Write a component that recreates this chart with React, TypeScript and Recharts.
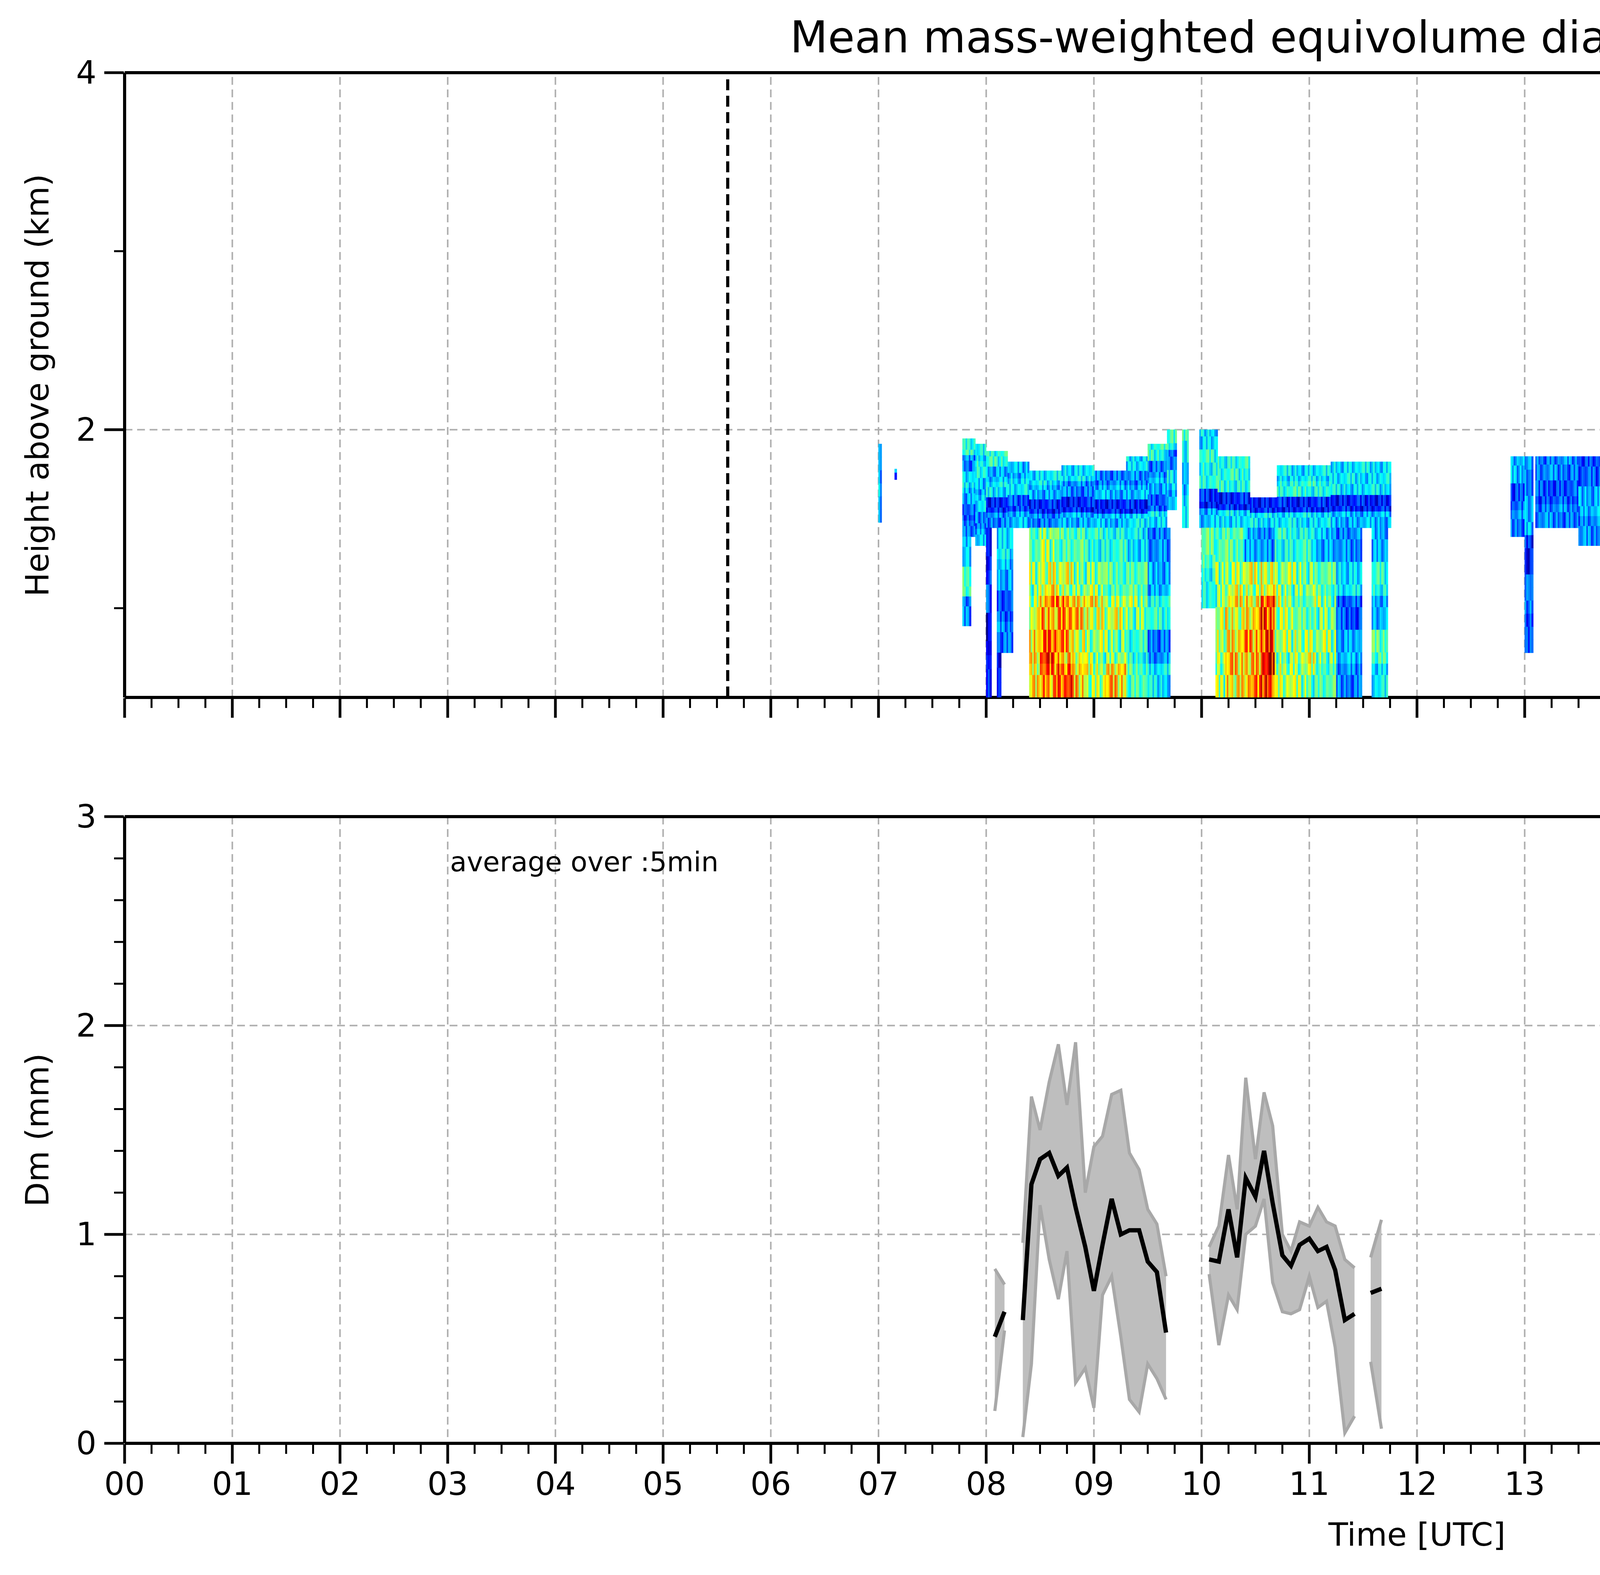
import React from 'react';
import { ComposedChart, Scatter, Line, Area, XAxis, YAxis, CartesianGrid, ReferenceLine } from 'recharts';

const HOUR_TICKS = [0,1,2,3,4,5,6,7,8,9,10,11,12,13,14,15,16,17,18,19,20,21,22,23];
const TOP_Y_TICKS = [1,2,3,4];
const TOP_Y_LABELS = [2,4];
const BOT_Y_TICKS = [0,0.2,0.4,0.6,0.8,1,1.2,1.4,1.6,1.8,2,2.2,2.4,2.6,2.8,3];
const BOT_Y_LABELS = [0,1,2,3];
const CBAR_TICKS = [0.0,0.4,0.8,1.2,1.6,2.0];
const DASH_LINES = [5.6,17.2];
// hand-listed column-to-column texture offsets (mm)
const TEXTURE = [0, 0.18, -0.12, 0.25, -0.3, 0.08, -0.2, 0.14, 0.3, -0.08, -0.25, 0.2, 0.05, -0.15, 0.22, -0.35, 0.1, -0.05, 0.28, -0.18, 0.12, -0.28, 0.02, 0.16];

// [t0, t1, h0, h1, values bottom->top]
const HEAT_SEGMENTS: number[][] = [
  [7.00,7.03,1.48,1.92,0.6,0.5],[7.15,7.17,1.72,1.78,0.5],
  [7.78,7.90,1.40,1.95,0.5,0.4,0.6,0.7,0.5,0.8],[7.90,8.00,1.35,1.92,0.6,0.5,0.7,0.6,0.8,0.7],
  [8.00,8.20,1.45,1.88,0.5,0.3,0.7,0.6,0.8],[8.20,8.40,1.45,1.82,0.6,0.4,0.7,0.6],
  [8.40,8.70,1.45,1.77,0.5,0.3,0.6,0.7],[8.70,9.00,1.45,1.80,0.6,0.3,0.5,0.7],
  [9.00,9.30,1.45,1.77,0.6,0.3,0.6,0.5],[9.30,9.50,1.45,1.85,0.7,0.3,0.6,0.5,0.7],
  [9.50,9.68,1.45,1.92,0.7,0.4,0.6,0.5,0.8],[9.68,9.77,1.55,2.00,0.6,0.7,0.5,0.8],
  [7.78,7.86,0.90,1.40,0.5,0.9,0.6],[8.00,8.05,0.50,1.45,0.3,0.2,0.4,0.3],
  [8.10,8.25,0.75,1.45,0.5,0.4,0.6,0.7],[8.10,8.14,0.50,0.75,0.3],
  [8.40,8.50,0.50,1.45,1.2,1.3,1.1,1.0,0.9],[8.50,8.65,0.50,1.45,1.5,1.6,1.4,1.2,1.0],
  [8.65,8.80,0.50,1.45,1.6,1.4,1.5,1.1,0.9],[8.80,8.92,0.50,1.45,1.3,1.2,1.3,1.0,0.9],
  [8.92,9.10,0.50,1.45,1.1,1.0,1.2,1.0,0.8],[9.10,9.30,0.50,1.45,1.3,1.0,1.1,0.9,0.8],
  [9.30,9.50,0.50,1.45,0.9,0.8,1.0,0.9,0.7],[9.50,9.71,0.50,1.45,0.7,0.5,0.8,0.6,0.5],
  [9.82,9.88,1.45,2.00,0.7,0.6,0.8],
  [9.98,10.15,1.45,2.00,0.6,0.3,0.8,0.8,0.7],[10.15,10.45,1.45,1.85,0.7,0.3,0.8,0.8],
  [10.45,10.70,1.45,1.62,0.7,0.3],[10.70,11.20,1.45,1.80,0.7,0.3,0.8,0.7],
  [11.20,11.76,1.45,1.82,0.6,0.3,0.7,0.7],
  [10.00,10.13,1.00,1.45,0.8,0.9],[10.13,10.22,0.50,1.45,1.0,1.1,1.0,1.0,0.9],
  [10.22,10.40,0.50,1.45,1.3,1.3,1.2,1.1,0.9],[10.40,10.55,0.50,1.45,1.4,1.4,1.3,1.1,0.6],
  [10.55,10.68,0.50,1.45,1.7,1.7,1.6,1.2,0.5],[10.68,10.85,0.50,1.45,1.1,1.0,1.1,1.0,0.8],
  [10.85,11.05,0.50,1.45,1.0,1.1,0.9,1.0,0.8],[11.05,11.25,0.50,1.45,0.9,1.0,1.0,0.9,0.6],
  [11.25,11.49,0.50,1.45,0.5,0.6,0.4,0.7,0.5],[11.58,11.73,0.50,1.45,0.7,0.9,0.6,0.8,0.6],
  [12.87,13.00,1.40,1.85,0.5,0.4,0.6],[13.00,13.08,0.75,1.85,0.4,0.5,0.3,0.6,0.5],
  [13.10,13.50,1.45,1.85,0.5,0.4,0.5],[13.50,13.75,1.35,1.85,0.5,0.6,0.4],
  [14.05,14.12,0.80,1.42,0.4,0.5,0.3],[15.69,15.77,0.85,1.71,0.4,0.5,0.6,0.5],
];

const TIME = [8.08,8.17,null,8.34,8.42,8.50,8.585,8.67,8.75,8.83,8.92,9.0,9.08,9.165,9.25,9.33,9.42,9.50,9.585,9.67,null,
  10.07,10.16,10.25,10.33,10.41,10.50,10.58,10.66,10.75,10.83,10.91,11.0,11.08,11.16,11.24,11.33,11.42,null,11.57,11.67];
const DM = [0.51,0.63,null,0.59,1.24,1.36,1.39,1.28,1.32,1.13,0.94,0.73,0.95,1.17,1.00,1.02,1.02,0.87,0.82,0.53,null,
  0.88,0.87,1.12,0.89,1.27,1.18,1.40,1.15,0.90,0.85,0.95,0.98,0.92,0.94,0.83,0.59,0.62,null,0.72,0.74];
const DM_HI = [0.835,0.76,null,0.96,1.66,1.50,1.73,1.91,1.62,1.92,1.20,1.42,1.47,1.67,1.69,1.39,1.31,1.12,1.05,0.80,null,
  0.94,1.04,1.38,1.12,1.75,1.36,1.68,1.52,1.00,0.92,1.06,1.04,1.13,1.06,1.04,0.88,0.84,null,0.89,1.07];
const DM_LO = [0.155,0.54,null,0.03,0.38,1.14,0.88,0.69,0.92,0.29,0.36,0.17,0.71,0.80,0.51,0.21,0.15,0.38,0.31,0.21,null,
  0.81,0.47,0.71,0.64,1.00,1.04,1.17,0.77,0.63,0.62,0.64,0.80,0.65,0.68,0.46,0.05,0.13,null,0.39,0.07];

const PLOT_L = 319, PLOT_R = 6936, PLOT_W = PLOT_R - PLOT_L;
const TOP_T = 186, TOP_B = 1785, BOT_T = 2090, BOT_B = 3694;
const PX_H = PLOT_W / 24, PX_KM = (TOP_B - TOP_T) / 3.5;
const FONT = 'DejaVu Sans';

function jet(v: number) {
  const f = Math.max(0, Math.min(1, v / 2));
  const c = (x: number) => Math.round(255 * Math.max(0, Math.min(1, 1.5 - Math.abs(x))));
  return `rgb(${c(4 * f - 3)},${c(4 * f - 2)},${c(4 * f - 1)})`;
}

const cells: any[] = [];
let col = 0;
HEAT_SEGMENTS.forEach((s) => {
  const [t0, t1, h0, h1, ...vals] = s;
  const n = Math.max(1, Math.round((t1 - t0) / 0.015));
  const sub = 3;
  const dt = (t1 - t0) / n, dh = (h1 - h0) / (vals.length * sub);
  for (let i = 0; i < n; i++) {
    col++;
    vals.forEach((v, j) => {
      for (let k = 0; k < sub; k++) {
        const r = j * sub + k;
        const off = TEXTURE[(col * 5 + Math.floor(r / 2) * 3) % TEXTURE.length] * (v > 0.9 ? 1 : 0.6);
        cells.push({ x: t0 + dt * (i + 0.5), y: h0 + dh * (r + 0.5), v: v + off, w: dt, h: dh });
      }
    });
  }
});

const lineData = TIME.map((t, i) => t === null ? { t: (TIME[i - 1] as number) + 0.04, dm: null, band: null } : { t, dm: DM[i], band: [DM_LO[i], DM_HI[i]] });

const MINOR_X: number[] = [];
for (let i = 0; i <= 96; i++) MINOR_X.push(i / 4);

const XTick = (labels: boolean) => (p: any) => {
  const v = p.payload.value;
  const major = Math.abs(v - Math.round(v)) < 1e-6;
  const len = major ? 50 : 25;
  return (
    <g>
      <line x1={p.x} x2={p.x} y1={p.y} y2={p.y + len} stroke="#000" strokeWidth={major ? 7 : 5} />
      {labels && major && v < 24 && <text x={p.x} y={p.y + 130} textAnchor="middle" fontSize={82} fontFamily={FONT}>{String(v).padStart(2, '0')}</text>}
    </g>
  );
};
const YTick = (labels: number[]) => (p: any) => {
  const v = p.payload.value;
  const major = labels.includes(v);
  const len = major ? 50 : 25;
  return (
    <g>
      <line x1={p.x} x2={p.x - len} y1={p.y} y2={p.y} stroke="#000" strokeWidth={major ? 7 : 5} />
      {major && <text x={p.x - 70} y={p.y + 28} textAnchor="end" fontSize={82} fontFamily={FONT}>{v}</text>}
    </g>
  );
};

const CellShape = (p: any) => {
  const w = p.payload.w * PX_H + 0.8, h = p.payload.h * PX_KM + 0.8;
  return <rect x={p.cx - w / 2} y={p.cy - h / 2} width={w} height={h} fill={jet(p.payload.v)} />;
};

export default function App() {
  const yW = 200;
  return (
    <div style={{ position: 'absolute', left: 0, top: 0, width: 7442, height: 4031, background: '#fff', fontFamily: FONT }}>
      <div style={{ position: 'absolute', left: PLOT_L, top: 30, width: PLOT_W, textAlign: 'center', fontSize: 112 }}>
        Mean mass-weighted equivolume diameter on 20250310
      </div>
      <div style={{ position: 'absolute', left: 0, top: 0 }}>
        <ComposedChart width={7442} height={1900} data={cells} margin={{ top: TOP_T, left: PLOT_L - yW, right: 7442 - PLOT_R, bottom: 55 }} style={{ overflow: 'visible' }}>
          <XAxis type="number" dataKey="x" domain={[0, 24]} ticks={MINOR_X} interval={0} tick={XTick(false)} tickLine={false} tickSize={0} height={60} axisLine={{ stroke: '#000', strokeWidth: 8 }} allowDataOverflow />
          <YAxis type="number" dataKey="y" domain={[0.5, 4]} ticks={TOP_Y_TICKS} interval={0} tick={YTick(TOP_Y_LABELS)} tickLine={false} tickSize={0} width={yW} axisLine={{ stroke: '#000', strokeWidth: 8 }} allowDataOverflow />
          <Scatter data={cells} shape={CellShape} isAnimationActive={false} />
          {HOUR_TICKS.slice(1).map((x) => <ReferenceLine key={'g' + x} x={x} stroke="#b0b0b0" strokeWidth={4} strokeDasharray="20 12" />)}
          <ReferenceLine y={2} stroke="#b0b0b0" strokeWidth={4} strokeDasharray="20 12" />
          {DASH_LINES.map((x) => <ReferenceLine key={x} x={x} stroke="#000" strokeWidth={8} strokeDasharray="28 14" />)}
          <ReferenceLine y={4} stroke="#000" strokeWidth={8} />
          <ReferenceLine x={24} stroke="#000" strokeWidth={8} />
        </ComposedChart>
      </div>
      <div style={{ position: 'absolute', left: 95, top: (TOP_T + TOP_B) / 2, width: 0, height: 0 }}>
        <div style={{ position: 'absolute', whiteSpace: 'nowrap', fontSize: 82, transform: 'translate(-50%,-50%) rotate(-90deg)' }}>Height above ground (km)</div>
      </div>
      <div style={{ position: 'absolute', left: 0, top: 1950 }}>
        <ComposedChart width={7442} height={2000} data={lineData} margin={{ top: BOT_T - 1950, left: PLOT_L - yW, right: 7442 - PLOT_R, bottom: 2000 - (BOT_B - 1950) - 200 }} style={{ overflow: 'visible' }}>
          <CartesianGrid stroke="#b0b0b0" strokeDasharray="20 12" strokeWidth={4} horizontalValues={[1, 2]} verticalValues={HOUR_TICKS.slice(1)} />
          <XAxis type="number" dataKey="t" domain={[0, 24]} ticks={MINOR_X} interval={0} tick={XTick(true)} tickLine={false} tickSize={0} height={200} axisLine={{ stroke: '#000', strokeWidth: 8 }} />
          <YAxis type="number" domain={[0, 3]} ticks={BOT_Y_TICKS} interval={0} tick={YTick(BOT_Y_LABELS)} tickLine={false} tickSize={0} width={yW} axisLine={{ stroke: '#000', strokeWidth: 8 }} />
          <Area dataKey="band" stroke="#a8a8a8" strokeWidth={8} fill="#bebebe" fillOpacity={1} isAnimationActive={false} connectNulls={false} dot={false} activeDot={false} />
          <Line dataKey="dm" stroke="#000" strokeWidth={11} dot={false} isAnimationActive={false} connectNulls={false} />
          <ReferenceLine y={3} stroke="#000" strokeWidth={8} />
          <ReferenceLine x={24} stroke="#000" strokeWidth={8} />
        </ComposedChart>
      </div>
      <div style={{ position: 'absolute', left: 1152, top: 2165, fontSize: 70 }}>average over :5min</div>
      <div style={{ position: 'absolute', left: 95, top: (BOT_T + BOT_B) / 2, width: 0, height: 0 }}>
        <div style={{ position: 'absolute', whiteSpace: 'nowrap', fontSize: 82, transform: 'translate(-50%,-50%) rotate(-90deg)' }}>Dm (mm)</div>
      </div>
      <div style={{ position: 'absolute', left: PLOT_L, top: 3880, width: PLOT_W, textAlign: 'center', fontSize: 82 }}>Time [UTC]</div>
      <svg style={{ position: 'absolute', left: 0, top: 0 }} width={7442} height={1900}>
        <defs>
          <linearGradient id="jetg" x1="0" y1="1" x2="0" y2="0">
            {[0, 0.125, 0.375, 0.625, 0.875, 1].map((o) => <stop key={o} offset={o} stopColor={jet(o * 2)} />)}
          </linearGradient>
        </defs>
        <rect x={7011} y={TOP_T} width={115} height={TOP_B - TOP_T} fill="url(#jetg)" stroke="#000" strokeWidth={5} />
        {CBAR_TICKS.map((v) => {
          const y = TOP_B - (v / 2) * (TOP_B - TOP_T);
          return (
            <g key={v}>
              <line x1={7126} x2={7166} y1={y} y2={y} stroke="#000" strokeWidth={5} />
              <text x={7180} y={y + 24} fontSize={68} fontFamily={FONT}>{v.toFixed(1)}</text>
            </g>
          );
        })}
        <text transform={`translate(7400,${(TOP_T + TOP_B) / 2}) rotate(-90)`} textAnchor="middle" fontSize={68} fontFamily={FONT}>Dm (mm)</text>
      </svg>
    </div>
  );
}
